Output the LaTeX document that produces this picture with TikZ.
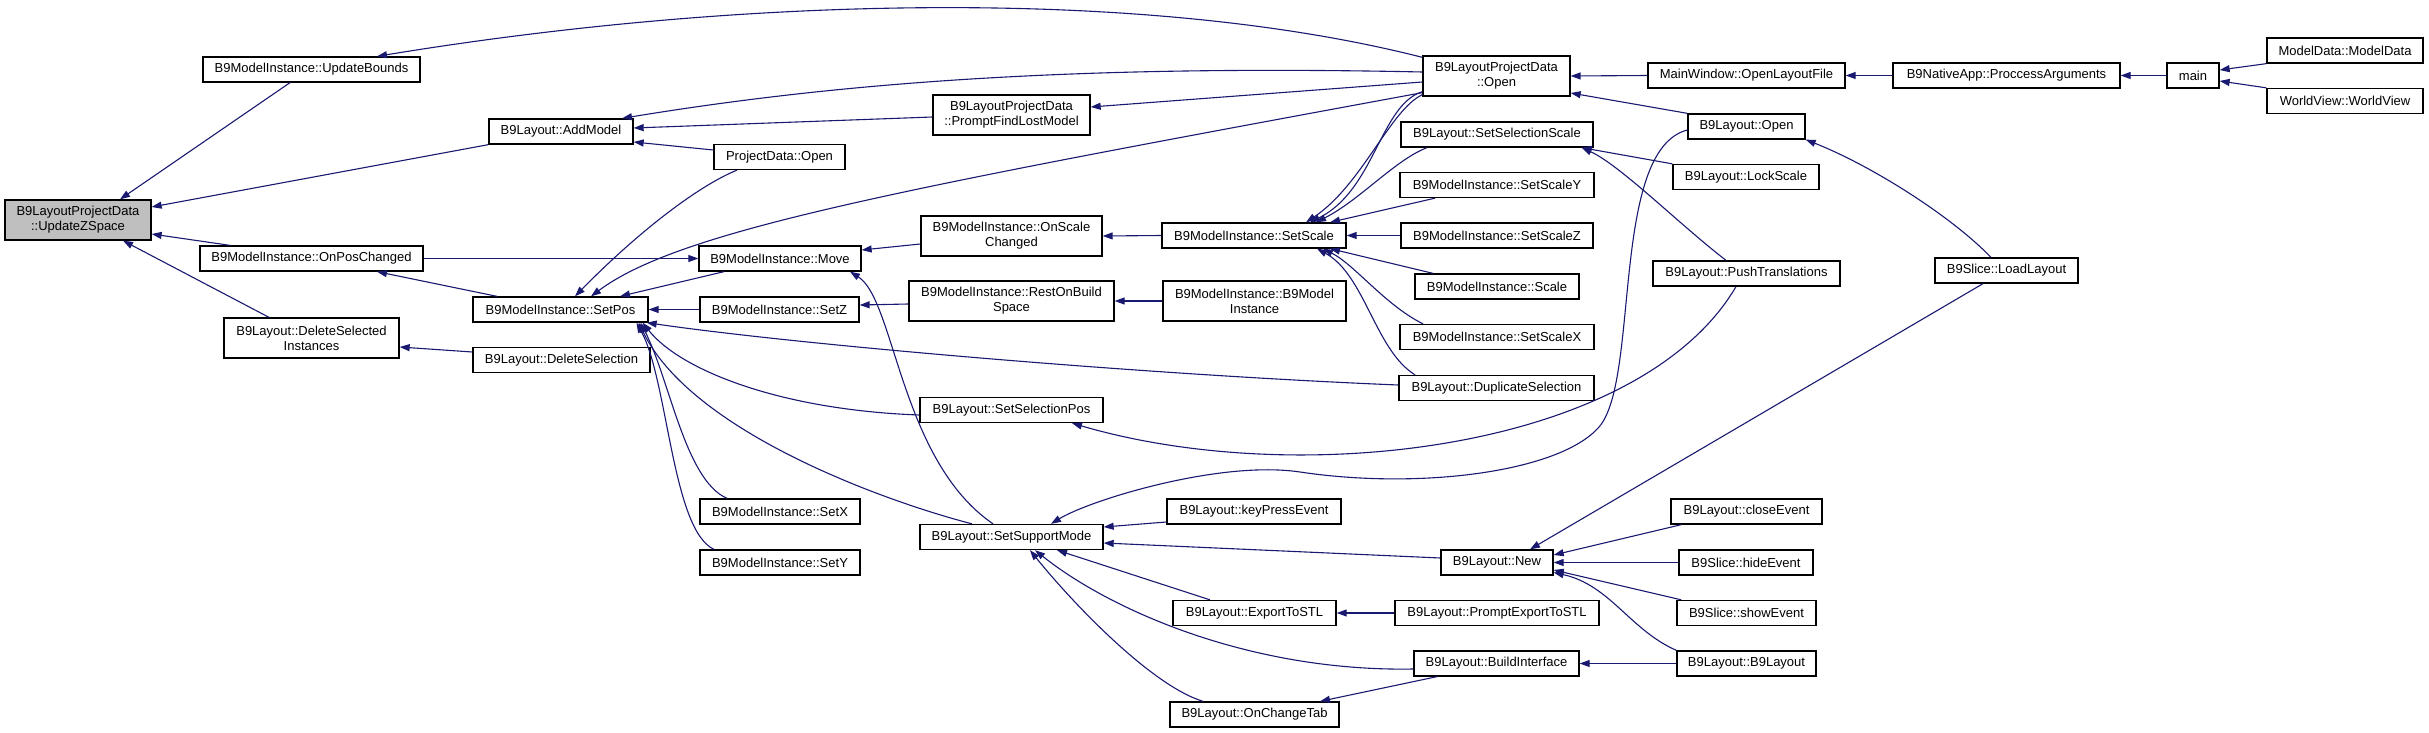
\documentclass[tikz,border=0pt]{standalone}
\usepackage{fontspec}
\setmainfont{Liberation Sans}
\usetikzlibrary{arrows.meta}
\definecolor{edgeblue}{HTML}{191970}
\definecolor{rootgray}{HTML}{BFBFBF}

\begin{document}
\begin{tikzpicture}[x=1pt,y=-1pt,>={Triangle[length=10pt,width=7pt]},
    fn/.style={draw=black,line width=1.3pt,fill=white,inner sep=0pt,
      minimum height=25pt,align=center,font=\fontsize{13}{15}\selectfont},
    fn2/.style={fn,minimum height=40pt},
    call/.style={->,draw=edgeblue,line width=1.1pt}]
  \useasboundingbox (0,0) rectangle (2429,733);

  % functions, column by column
  \node[fn2,fill=rootgray,minimum width=146] (zspace) at (78,220) {B9LayoutProjectData\\::UpdateZSpace};

  \node[fn,minimum width=217] (ubounds) at (311.5,69.5) {B9ModelInstance::UpdateBounds};
  \node[fn,minimum width=223] (onposch) at (311.5,258.5) {B9ModelInstance::OnPosChanged};
  \node[fn2,minimum width=175] (delinst) at (311.5,338) {B9Layout::DeleteSelected\\Instances};

  \node[fn,minimum width=144] (addmodel) at (561,131.5) {B9Layout::AddModel};
  \node[fn,minimum width=175] (setpos) at (560.5,309.5) {B9ModelInstance::SetPos};
  \node[fn,minimum width=177] (delsel) at (561.5,360) {B9Layout::DeleteSelection};

  \node[fn,minimum width=131] (pdopen) at (779.5,157) {ProjectData::Open};
  \node[fn,minimum width=162] (move) at (780,258.5) {B9ModelInstance::Move};
  \node[fn,minimum width=159] (setz) at (779.5,309.5) {B9ModelInstance::SetZ};
  \node[fn,minimum width=160] (setx) at (780,511.5) {B9ModelInstance::SetX};
  \node[fn,minimum width=160] (sety) at (780,562.5) {B9ModelInstance::SetY};

  \node[fn2,minimum width=157] (promptfind) at (1011.5,115) {B9LayoutProjectData\\::PromptFindLostModel};
  \node[fn2,minimum width=181] (onscalech) at (1011.5,236) {B9ModelInstance::OnScale\\Changed};
  \node[fn2,minimum width=205] (restbuild) at (1011.5,301) {B9ModelInstance::RestOnBuild\\Space};
  \node[fn,minimum width=183] (selpos) at (1011.5,410) {B9Layout::SetSelectionPos};
  \node[fn,minimum width=183] (supmode) at (1011.5,537) {B9Layout::SetSupportMode};

  \node[fn,minimum width=184] (setscale) at (1254,235.5) {B9ModelInstance::SetScale};
  \node[fn2,minimum width=183] (ctor) at (1254.5,301) {B9ModelInstance::B9Model\\Instance};
  \node[fn,minimum width=174] (keypress) at (1254,511.5) {B9Layout::keyPressEvent};
  \node[fn,minimum width=163] (export) at (1254.5,613) {B9Layout::ExportToSTL};
  \node[fn,minimum width=169] (onchtab) at (1254.5,714.5) {B9Layout::OnChangeTab};

  \node[fn2,minimum width=147] (lpdopen) at (1496.5,76) {B9LayoutProjectData\\::Open};
  \node[fn,minimum width=192] (selscale) at (1497,134.5) {B9Layout::SetSelectionScale};
  \node[fn,minimum width=194] (scaley) at (1497,185) {B9ModelInstance::SetScaleY};
  \node[fn,minimum width=192] (scalez) at (1497,235.5) {B9ModelInstance::SetScaleZ};
  \node[fn,minimum width=164] (mscale) at (1497,286.5) {B9ModelInstance::Scale};
  \node[fn,minimum width=194] (scalex) at (1497,337) {B9ModelInstance::SetScaleX};
  \node[fn,minimum width=195] (dupsel) at (1496.5,388) {B9Layout::DuplicateSelection};
  \node[fn,minimum width=112] (new) at (1497,562.5) {B9Layout::New};
  \node[fn,minimum width=204] (promptexp) at (1497,613) {B9Layout::PromptExportToSTL};
  \node[fn,minimum width=165] (buildif) at (1496.5,663.5) {B9Layout::BuildInterface};

  \node[fn,minimum width=197] (openfile) at (1746.5,75.5) {MainWindow::OpenLayoutFile};
  \node[fn,minimum width=117] (lopen) at (1746.5,126.5) {B9Layout::Open};
  \node[fn,minimum width=146] (lockscale) at (1746,177) {B9Layout::LockScale};
  \node[fn,minimum width=187] (pushtr) at (1746.5,273.5) {B9Layout::PushTranslations};
  \node[fn,minimum width=151] (closeev) at (1746.5,511.5) {B9Layout::closeEvent};
  \node[fn,minimum width=134] (hideev) at (1746,562.5) {B9Slice::hideEvent};
  \node[fn,minimum width=139] (showev) at (1746.5,613) {B9Slice::showEvent};
  \node[fn,minimum width=139] (ctorlay) at (1746.5,663.5) {B9Layout::B9Layout};

  \node[fn,minimum width=227] (procargs) at (2006.5,75.5) {B9NativeApp::ProccessArguments};
  \node[fn,minimum width=143] (loadlayout) at (2006.5,270.5) {B9Slice::LoadLayout};
  \node[fn,minimum width=52] (main) at (2193,75.5) {main};
  \node[fn,minimum width=156] (modeldata) at (2345,50.5) {ModelData::ModelData};
  \node[fn,minimum width=156] (worldview) at (2345,101) {WorldView::WorldView};

  % into UpdateZSpace
  \draw[call] ([xshift=-21.5pt]ubounds.south) -- ([xshift=42pt]zspace.north);
  \draw[call] (addmodel.south west) -- ([yshift=13pt]zspace.east);
  \draw[call] ([xshift=-81.5pt]onposch.north) -- ([yshift=-14pt]zspace.east);
  \draw[call] ([xshift=-42.5pt]delinst.north) -- ([xshift=45pt]zspace.south);
  \draw[call] ([yshift=8pt]delsel.west) -- ([yshift=-9pt]delinst.east);

  % callers of B9LayoutProjectData::Open side
  \draw[call] ([yshift=-2pt]lpdopen.north west) .. controls (1150,-12) and (750,-5) .. ([xshift=65.5pt]ubounds.north);
  \draw[call] ([yshift=4pt]lpdopen.west) .. controls (1050,64) and (820,86) .. ([xshift=61pt]addmodel.north);
  \draw[call] ([yshift=-6pt]lpdopen.west) -- ([yshift=8pt]promptfind.east);
  \draw[call] ([yshift=4pt]lpdopen.south west) .. controls (900,189) and (680,230) .. ([xshift=30.5pt]setpos.north);
  \draw[call] ([yshift=5pt]lpdopen.south west) .. controls (1380,105) and (1375,190) .. ([xshift=56pt]setscale.north);
  \draw[call] ([yshift=2pt]lpdopen.south west) .. controls (1390,110) and (1362,185) .. ([xshift=52pt]setscale.north);
  \draw[call] ([yshift=-2pt]promptfind.west) -- ([yshift=3.5pt]addmodel.east);
  \draw[call] ([yshift=7pt]pdopen.west) -- ([yshift=-10.5pt]addmodel.east);

  % SetPos
  \draw[call] ([xshift=-42.5pt]pdopen.south) .. controls (700,185) and (640,230) .. ([xshift=14.5pt]setpos.north);
  \draw[call] ([xshift=-56pt]move.south) -- ([xshift=59.5pt]setpos.north);
  \draw[call] (setz.west) -- (setpos.east);
  \draw[call] ([yshift=-5pt]selpos.west) .. controls (780,410) and (680,370) .. ([xshift=-6pt]setpos.south east);
  \draw[call] ([yshift=3pt]dupsel.west) .. controls (1150,375) and (800,345) .. ([xshift=-2pt]setpos.south east);
  \draw[call] ([xshift=-39.5pt]supmode.north) .. controls (880,500) and (690,430) .. ([xshift=-10pt]setpos.south east);
  \draw[call] ([xshift=-53pt]setx.north) .. controls (685,480) and (670,380) .. ([xshift=80pt]setpos.south);
  \draw[call] ([xshift=-66pt]sety.north) .. controls (672,530) and (668,380) .. ([xshift=76pt]setpos.south);

  % OnPosChanged, Move, SetZ
  \draw[call] ([xshift=-63.5pt]setpos.north) -- ([xshift=65.5pt]onposch.south);
  \draw[call] (onposch.east) -- (move.west);
  \draw[call] ([yshift=-8pt]onscalech.west) -- ([yshift=8.5pt]move.east);
  \draw[call] ([xshift=-18.5pt]supmode.north) .. controls (900,460) and (895,300) .. ([xshift=70pt]move.south);
  \draw[call] ([yshift=-3pt]restbuild.west) -- ([yshift=4.5pt]setz.east);
  \draw[call] (ctor.west) -- (restbuild.east);

  % SetScale
  \draw[call] (setscale.west) -- (onscalech.east);
  \draw[call] (scalez.west) -- (setscale.east);
  \draw[call] ([xshift=-70pt]selscale.south) .. controls (1395,160) and (1360,200) .. ([xshift=62pt]setscale.north);
  \draw[call] ([xshift=-62pt]scaley.south) -- ([xshift=76pt]setscale.north);
  \draw[call] ([xshift=-64pt]mscale.north) -- ([xshift=76pt]setscale.south);
  \draw[call] ([xshift=-74pt]scalex.north) .. controls (1385,305) and (1355,265) .. ([xshift=69pt]setscale.south);
  \draw[call] ([xshift=-81.5pt]dupsel.north) .. controls (1375,350) and (1365,275) .. ([xshift=63pt]setscale.south);
  \draw[call] (lockscale.north west) -- ([xshift=-12pt]selscale.south east);
  \draw[call] ([xshift=-20.5pt]pushtr.north) .. controls (1680,225) and (1620,165) .. ([xshift=-12pt]selscale.south east);

  % right hand side
  \draw[call] (openfile.west) -- (lpdopen.east);
  \draw[call] (lopen.north west) -- ([yshift=-17pt]lpdopen.east);
  \draw[call] (procargs.west) -- (openfile.east);
  \draw[call] (main.west) -- (procargs.east);
  \draw[call] (modeldata.south west) -- ([yshift=5.5pt]main.east);
  \draw[call] (worldview.north west) -- ([yshift=-5.5pt]main.east);
  \draw[call] ([xshift=-15.5pt]loadlayout.north) .. controls (1950,215) and (1870,165) .. (lopen.south east);
  \draw[call] ([xshift=-10.5pt]pushtr.south) .. controls (1640,450) and (1300,490) .. ([xshift=60.5pt]selpos.south);
  \draw[call] ([yshift=-3.5pt]lopen.west) .. controls (1610,150) and (1640,380) .. (1599,427)
    .. controls (1560,472) and (1420,490) .. (1300,472)
    .. controls (1220,460) and (1090,500) .. ([xshift=39.5pt]supmode.north);

  % New
  \draw[call] ([xshift=-23.5pt]loadlayout.south) -- ([xshift=33pt]new.north);
  \draw[call] ([xshift=11pt]closeev.south west) -- ([yshift=7.5pt]new.east);
  \draw[call] (hideev.west) -- (new.east);
  \draw[call] ([xshift=5pt]showev.north west) -- ([yshift=-7.5pt]new.east);
  \draw[call] (ctorlay.north west) .. controls (1630,630) and (1610,585) .. ([yshift=-10pt]new.east);
  \draw[call] (ctorlay.west) -- (buildif.east);

  % SetSupportMode
  \draw[call] ([yshift=-10.5pt]keypress.west) -- ([yshift=10pt]supmode.east);
  \draw[call] ([yshift=4.5pt]new.west) -- ([yshift=-6pt]supmode.east);
  \draw[call] ([xshift=-44.5pt]export.north) -- ([xshift=45.5pt]supmode.south);
  \draw[call] ([yshift=-5.5pt]buildif.west) .. controls (1250,672) and (1110,610) .. ([xshift=23.5pt]supmode.south);
  \draw[call] ([xshift=-51.5pt]onchtab.north) .. controls (1150,685) and (1070,600) .. ([xshift=18.5pt]supmode.south);
  \draw[call] (promptexp.west) -- (export.east);
  \draw[call] ([xshift=-59.5pt]buildif.south) -- ([xshift=65.5pt]onchtab.north);
\end{tikzpicture}
\end{document}
